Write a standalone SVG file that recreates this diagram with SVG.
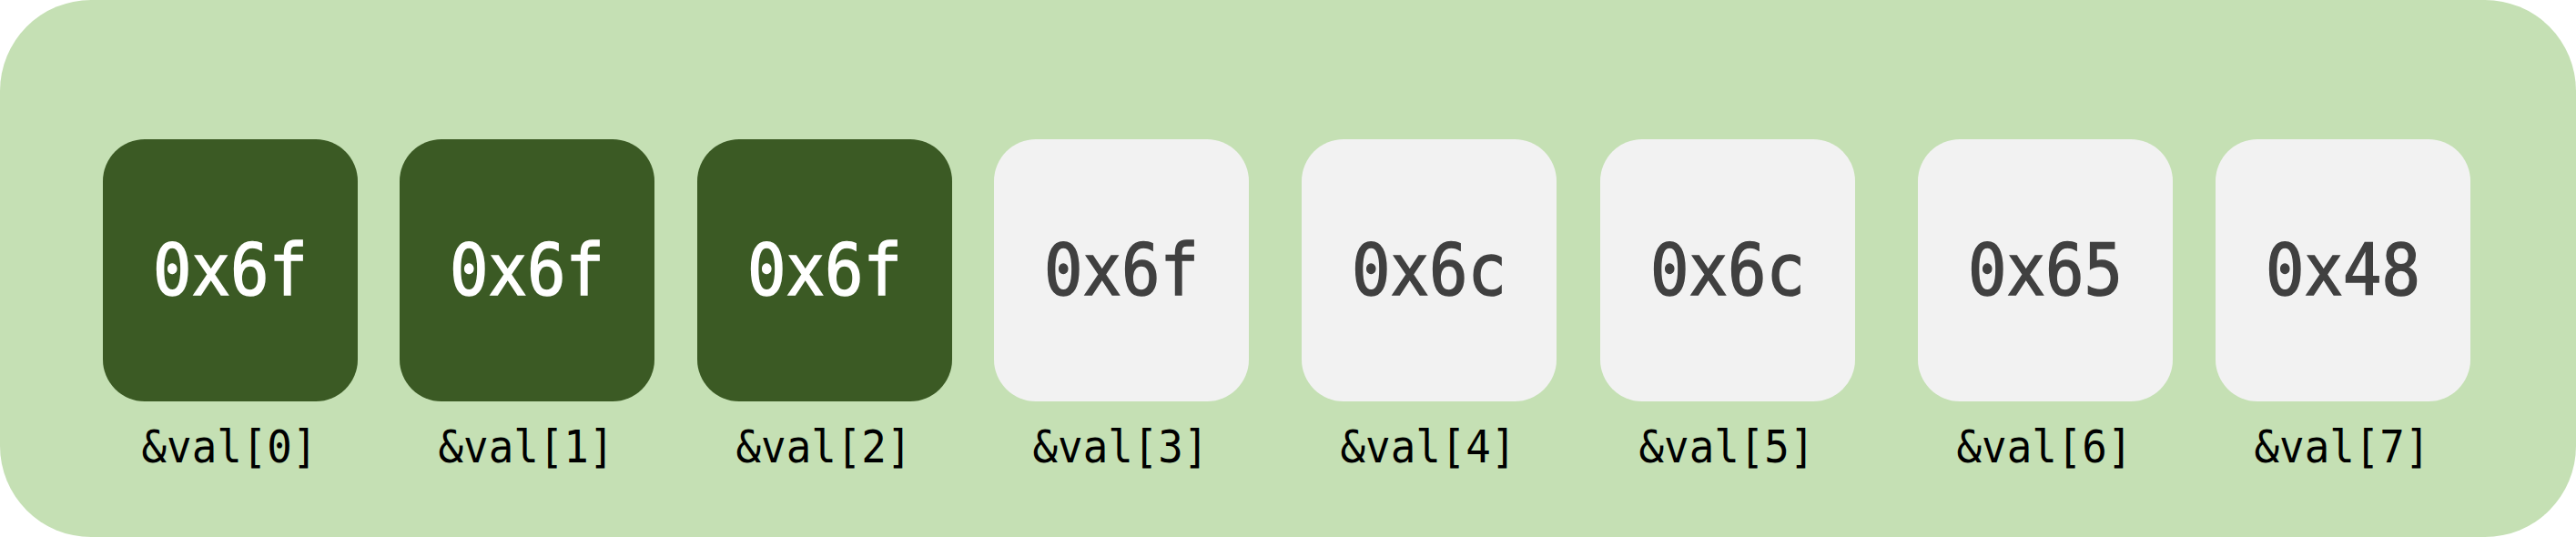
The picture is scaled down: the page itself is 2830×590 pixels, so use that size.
<svg xmlns="http://www.w3.org/2000/svg" width="2830" height="590" viewBox="0 0 2830 590">
<style>
.bg{fill:#c5e0b4}
.dark{fill:#3b5a24}
.light{fill:#f2f2f2}
.val{font-family:"DejaVu Sans Mono","Liberation Mono",monospace;font-size:78px;text-anchor:middle;stroke-width:1.6px}
.vdark{fill:#ffffff;stroke:#ffffff}
.vlight{fill:#404040;stroke:#404040}
.lbl{font-family:"DejaVu Sans Mono","Liberation Mono",monospace;font-size:49px;text-anchor:middle;fill:#000000}
</style>
<rect class="bg" x="0" y="0" width="2830" height="590" rx="100" ry="100"/>
<g id="connectors"></g>
<g id="n0"><rect class="dark" x="113" y="153" width="280" height="288" rx="46" ry="46"/><text class="val vdark" x="253" y="324" textLength="170" lengthAdjust="spacingAndGlyphs">0x6f</text><text class="lbl" x="252" y="508" textLength="193" lengthAdjust="spacingAndGlyphs">&amp;val[0]</text></g>
<g id="n1"><rect class="dark" x="439" y="153" width="280" height="288" rx="46" ry="46"/><text class="val vdark" x="579" y="324" textLength="170" lengthAdjust="spacingAndGlyphs">0x6f</text><text class="lbl" x="578" y="508" textLength="193" lengthAdjust="spacingAndGlyphs">&amp;val[1]</text></g>
<g id="n2"><rect class="dark" x="766" y="153" width="280" height="288" rx="46" ry="46"/><text class="val vdark" x="906" y="324" textLength="170" lengthAdjust="spacingAndGlyphs">0x6f</text><text class="lbl" x="905" y="508" textLength="193" lengthAdjust="spacingAndGlyphs">&amp;val[2]</text></g>
<g id="n3"><rect class="light" x="1092" y="153" width="280" height="288" rx="46" ry="46"/><text class="val vlight" x="1232" y="324" textLength="170" lengthAdjust="spacingAndGlyphs">0x6f</text><text class="lbl" x="1231" y="508" textLength="193" lengthAdjust="spacingAndGlyphs">&amp;val[3]</text></g>
<g id="n4"><rect class="light" x="1430" y="153" width="280" height="288" rx="46" ry="46"/><text class="val vlight" x="1570" y="324" textLength="170" lengthAdjust="spacingAndGlyphs">0x6c</text><text class="lbl" x="1569" y="508" textLength="193" lengthAdjust="spacingAndGlyphs">&amp;val[4]</text></g>
<g id="n5"><rect class="light" x="1758" y="153" width="280" height="288" rx="46" ry="46"/><text class="val vlight" x="1898" y="324" textLength="170" lengthAdjust="spacingAndGlyphs">0x6c</text><text class="lbl" x="1897" y="508" textLength="193" lengthAdjust="spacingAndGlyphs">&amp;val[5]</text></g>
<g id="n6"><rect class="light" x="2107" y="153" width="280" height="288" rx="46" ry="46"/><text class="val vlight" x="2247" y="324" textLength="170" lengthAdjust="spacingAndGlyphs">0x65</text><text class="lbl" x="2246" y="508" textLength="193" lengthAdjust="spacingAndGlyphs">&amp;val[6]</text></g>
<g id="n7"><rect class="light" x="2434" y="153" width="280" height="288" rx="46" ry="46"/><text class="val vlight" x="2574" y="324" textLength="170" lengthAdjust="spacingAndGlyphs">0x48</text><text class="lbl" x="2573" y="508" textLength="193" lengthAdjust="spacingAndGlyphs">&amp;val[7]</text></g>
</svg>
